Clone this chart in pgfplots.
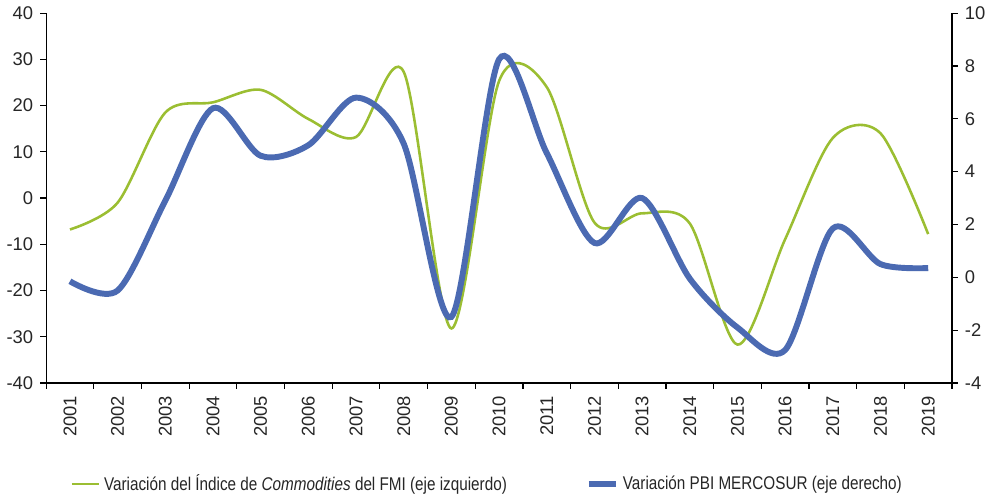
\documentclass[border=0pt]{standalone}
\usepackage{fontspec}
\setmainfont{Liberation Sans}
\newfontfamily\legfont{Liberation Sans}[FakeStretch=0.83]
\usepackage{pgfplots}
\pgfplotsset{compat=1.18}
\definecolor{cgreen}{RGB}{155,190,50}
\definecolor{cblue}{RGB}{75,106,178}
\begin{document}
\begin{tikzpicture}
\pgfplotsset{every axis/.append style={
  scale only axis, width=458pt, height=187pt,
  xmin=0.5, xmax=19.5,
  /pgf/number format/assume math mode=true,
  tick label style={font=\fontsize{9.3}{11}\selectfont, text=black!85},
  axis line style={black, line width=0.6pt},
  tick style={black, line width=0.6pt},
  tick align=outside,
  major tick length=3pt,
}}
\begin{axis}[
  axis x line*=bottom, axis y line*=left,
  ymin=-40, ymax=40, ytick={-40,-30,...,40},
  xtick={1,...,19},
  xticklabels={2001,2002,2003,2004,2005,2006,2007,2008,2009,2010,2011,2012,2013,2014,2015,2016,2017,2018,2019},
  x tick label style={rotate=90, anchor=east},
  major x tick style={draw=none},
  minor xtick={0.5,1.5,...,19.5},
  minor tick length=3pt,
  minor x tick style={black, line width=0.6pt},
  legend style={at={(0.02,-0.225)}, anchor=north west, draw=none, legend columns=2,
    font=\legfont\fontsize{9.3}{11}\selectfont, text=black!85,
    /tikz/every even column/.append style={column sep=38pt}},
  legend image code/.code={\draw[#1] (0cm,0cm) -- (0.48cm,0cm);},
]
\addplot[cgreen, line width=1.3pt, smooth, tension=0.5] coordinates {
(1,-6.8) (2,-1) (3,18.5) (4,20.7) (5,23.4) (6,17.1) (7,13.2) (8,27.3) (9,-28.2)
(10,25.3) (11,24) (12,-5.3) (13,-3.3) (14,-5.5) (15,-31.7) (16,-8.9) (17,13) (18,14) (19,-7.8)};
\addlegendentry{Variación del Índice de \textit{Commodities} del FMI (eje izquierdo)}
\addlegendimage{cblue, line width=3pt}
\addlegendentry{Variación PBI MERCOSUR (eje derecho)}
\end{axis}
\begin{axis}[
  axis x line=none, axis y line*=right,
  ymin=-4, ymax=10, ytick={-4,-2,...,10},
]
\addplot[cblue, line width=3pt, smooth, tension=0.5] coordinates {
(1,-0.15) (2,-0.5) (3,2.9) (4,6.4) (5,4.6) (6,5.0) (7,6.8) (8,5.06) (9,-1.5)
(10,8.25) (11,4.7) (12,1.3) (13,3.0) (14,-0.05) (15,-1.9) (16,-2.75) (17,1.85) (18,0.5) (19,0.35)};
\end{axis}
\end{tikzpicture}
\end{document}
